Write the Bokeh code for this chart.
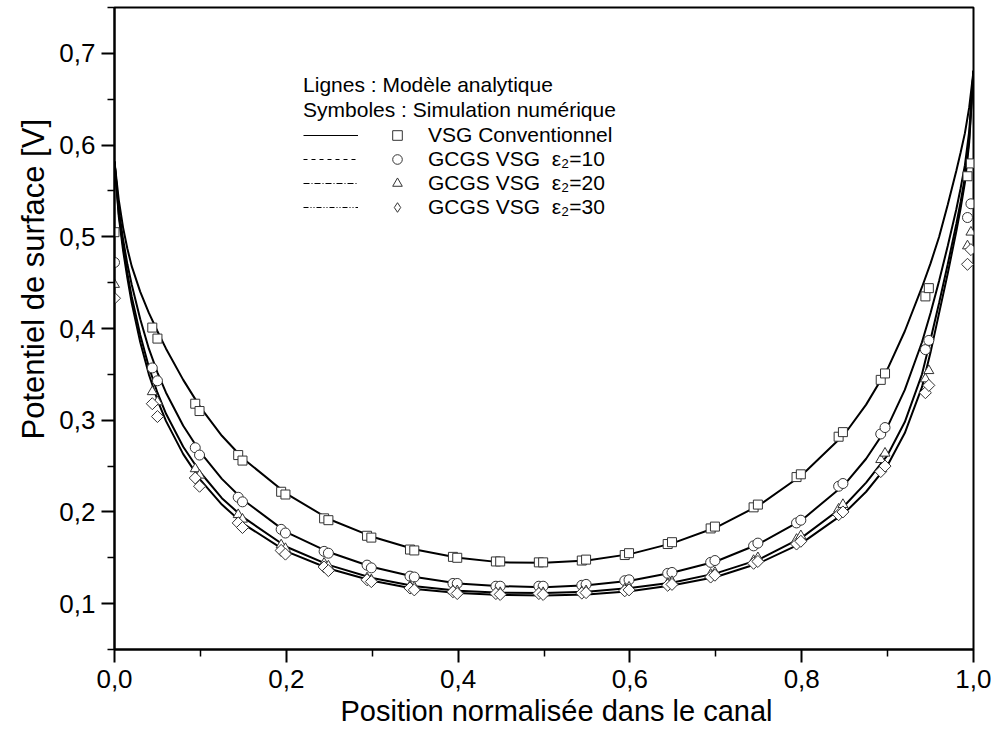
import math
from bokeh.plotting import figure
from bokeh.models import Range1d, FixedTicker, Legend, LegendItem, Label, Title
from bokeh.core.properties import value
from bokeh.embed import file_html
from bokeh.resources import INLINE

# ---------------- data ----------------
# analytic model (lines)
x_line = [0.0, 0.005, 0.01, 0.015, 0.02, 0.03, 0.04, 0.05, 0.06, 0.08, 0.10, 0.125, 0.15,
          0.20, 0.25, 0.30, 0.35, 0.40, 0.45, 0.50, 0.55, 0.60, 0.65, 0.70, 0.75, 0.80,
          0.85, 0.875, 0.90, 0.92, 0.94, 0.95, 0.96, 0.97, 0.98, 0.985, 0.99, 0.995, 1.0]
conv_line = [0.582, 0.540, 0.510, 0.487, 0.468, 0.440, 0.417, 0.397, 0.378, 0.344, 0.314, 0.283, 0.258,
             0.220, 0.192, 0.173, 0.159, 0.150, 0.145, 0.1445, 0.147, 0.154, 0.166, 0.183, 0.207, 0.240,
             0.285, 0.317, 0.356, 0.397, 0.445, 0.471, 0.500, 0.535, 0.572, 0.592, 0.613, 0.641, 0.681]
eps10_line = [0.582, 0.530, 0.497, 0.470, 0.448, 0.410, 0.378, 0.352, 0.330, 0.294, 0.265, 0.236, 0.213,
              0.178, 0.156, 0.140, 0.129, 0.122, 0.119, 0.118, 0.120, 0.125, 0.134, 0.146, 0.165, 0.191,
              0.230, 0.258, 0.293, 0.333, 0.385, 0.417, 0.452, 0.490, 0.530, 0.553, 0.578, 0.615, 0.681]
eps20_line = [0.582, 0.525, 0.490, 0.460, 0.435, 0.393, 0.358, 0.330, 0.307, 0.271, 0.243, 0.215, 0.194,
              0.162, 0.142, 0.128, 0.119, 0.114, 0.112, 0.1115, 0.113, 0.117, 0.123, 0.133, 0.148, 0.172,
              0.207, 0.232, 0.262, 0.298, 0.350, 0.388, 0.428, 0.470, 0.514, 0.538, 0.565, 0.607, 0.681]
eps30_line = [0.582, 0.522, 0.485, 0.455, 0.428, 0.385, 0.350, 0.322, 0.299, 0.263, 0.235, 0.208, 0.187,
              0.157, 0.138, 0.125, 0.116, 0.1115, 0.1095, 0.109, 0.110, 0.1135, 0.120, 0.129, 0.144, 0.166,
              0.199, 0.222, 0.251, 0.286, 0.336, 0.374, 0.417, 0.460, 0.506, 0.531, 0.559, 0.603, 0.681]

# numerical simulation (symbols), two interleaved point sets
x_sim_a = [0.000, 0.044, 0.094, 0.144, 0.194, 0.244, 0.294, 0.344, 0.394, 0.444, 0.494,
           0.544, 0.594, 0.644, 0.694, 0.744, 0.794, 0.843, 0.892, 0.944, 0.993]
x_sim_b = [0.050, 0.099, 0.149, 0.199, 0.249, 0.299, 0.349, 0.399, 0.449, 0.499,
           0.549, 0.599, 0.649, 0.699, 0.749, 0.799, 0.848, 0.897, 0.948, 0.997]
conv_sim_a = [0.505, 0.401, 0.318, 0.262, 0.222, 0.193, 0.174, 0.159, 0.151, 0.146, 0.145,
              0.147, 0.153, 0.165, 0.182, 0.205, 0.238, 0.282, 0.344, 0.435, 0.566]
conv_sim_b = [0.389, 0.310, 0.256, 0.219, 0.191, 0.172, 0.158, 0.150, 0.146, 0.145,
              0.148, 0.155, 0.167, 0.184, 0.208, 0.241, 0.287, 0.351, 0.444, 0.580]
eps10_sim_a = [0.472, 0.357, 0.270, 0.216, 0.181, 0.157, 0.142, 0.130, 0.122, 0.119, 0.119,
               0.120, 0.125, 0.133, 0.145, 0.163, 0.188, 0.228, 0.285, 0.377, 0.521]
eps10_sim_b = [0.343, 0.262, 0.211, 0.177, 0.155, 0.139, 0.129, 0.122, 0.119, 0.119,
               0.121, 0.126, 0.134, 0.147, 0.166, 0.191, 0.231, 0.292, 0.387, 0.536]
eps20_sim_a = [0.448, 0.331, 0.247, 0.197, 0.164, 0.144, 0.128, 0.119, 0.114, 0.112, 0.112,
               0.113, 0.116, 0.122, 0.132, 0.147, 0.170, 0.203, 0.257, 0.345, 0.490]
eps20_sim_b = [0.320, 0.240, 0.192, 0.160, 0.141, 0.126, 0.118, 0.114, 0.112, 0.112,
               0.114, 0.118, 0.124, 0.134, 0.150, 0.174, 0.208, 0.264, 0.354, 0.505]
eps30_sim_a = [0.433, 0.318, 0.237, 0.188, 0.158, 0.140, 0.126, 0.117, 0.113, 0.111, 0.111,
               0.1115, 0.114, 0.120, 0.129, 0.144, 0.165, 0.197, 0.244, 0.330, 0.470]
eps30_sim_b = [0.304, 0.228, 0.183, 0.154, 0.136, 0.124, 0.115, 0.111, 0.110, 0.110,
               0.112, 0.115, 0.121, 0.131, 0.146, 0.168, 0.200, 0.250, 0.338, 0.486]

series_labels = ["VSG Conventionnel", "GCGS VSG  ε₂=10", "GCGS VSG  ε₂=20", "GCGS VSG  ε₂=30"]
header_lines = ["Lignes : Modèle analytique", "Symboles : Simulation numérique"]
x_title = "Position normalisée dans le canal"
y_title = "Potentiel de surface [V]"

x_ticks = [0.0, 0.2, 0.4, 0.6, 0.8, 1.0]
x_tick_labels = ["0,0", "0,2", "0,4", "0,6", "0,8", "1,0"]
x_minor = [0.1, 0.3, 0.5, 0.7, 0.9]
y_ticks = [0.1, 0.2, 0.3, 0.4, 0.5, 0.6, 0.7]
y_tick_labels = ["0,1", "0,2", "0,3", "0,4", "0,5", "0,6", "0,7"]
y_minor = [0.05, 0.15, 0.25, 0.35, 0.45, 0.55, 0.65, 0.75]

FONT = "Liberation Sans"
NAN = float("nan")

# ---------------- figure ----------------
p = figure(width=991, height=744, title=None,
           x_range=Range1d(0, 1), y_range=Range1d(0.05, 0.75),
           output_backend="svg", toolbar_location=None,
           min_border_left=114, min_border_right=18, min_border_top=7, min_border_bottom=95)
p.xgrid.visible = False
p.ygrid.visible = False
p.outline_line_color = "black"
p.outline_line_width = 2
p.background_fill_color = "white"
p.border_fill_color = "white"

p.xaxis.ticker = FixedTicker(ticks=x_ticks, minor_ticks=x_minor)
p.yaxis.ticker = FixedTicker(ticks=y_ticks, minor_ticks=y_minor)
p.xaxis.major_label_overrides = {t: l for t, l in zip(x_ticks, x_tick_labels)}
p.yaxis.major_label_overrides = {t: l for t, l in zip(y_ticks, y_tick_labels)}

for ax in (p.xaxis[0], p.yaxis[0]):
    ax.axis_line_width = 2
    ax.axis_line_color = "black"
    ax.major_tick_line_width = 2
    ax.minor_tick_line_width = 1.5
    ax.major_tick_out = 13
    ax.major_tick_in = 0
    ax.minor_tick_out = 7
    ax.minor_tick_in = 0
    ax.major_label_text_font = FONT
    ax.major_label_text_font_size = "26px"
    ax.major_label_text_color = "black"
p.xaxis.major_label_standoff = 7
p.yaxis.major_label_standoff = 6

# axis titles as side titles (allow the slight off-centre placement of the original)
p.add_layout(Title(text=x_title, align="left", offset=226, text_font=FONT, text_font_size="29px",
                   text_font_style="normal", text_color="black", standoff=4), "below")
p.add_layout(Title(text=y_title, align="left", offset=210, text_font=FONT, text_font_size="31px",
                   text_font_style="normal", text_color="black", standoff=11), "left")

# analytic lines
for ys in (conv_line, eps10_line, eps20_line, eps30_line):
    p.line(x_line, ys, line_color="black", line_width=2)

# simulation symbols
MK = dict(fill_color="white", line_color="#333333", line_width=1)
sym_specs = [
    ("square", 9, 0.0, "square", conv_sim_a, conv_sim_b),
    ("circle", 10, 0.0, "circle", eps10_sim_a, eps10_sim_b),
    ("triangle", 10, 0.0, "triangle", eps20_sim_a, eps20_sim_b),
    ("square", 8.5, math.pi / 4, "diamond", eps30_sim_a, eps30_sim_b),
]
legend_sym = []
for marker, size, ang, leg_marker, ya, yb in sym_specs:
    p.scatter(x_sim_a, ya, marker=marker, size=size, angle=ang, **MK)
    p.scatter(x_sim_b, yb, marker=marker, size=size, angle=ang, **MK)
    # legend-only renderer (no visible data)
    legend_sym.append(p.scatter(x=[NAN], y=[NAN], marker=leg_marker, size=size, **MK))

# legend: line-style samples (legend-only renderers)
dashes = ["solid", "4 4", "6 2 1 2", "5 2 1 2 1 2"]
legend_lines = [p.line(x=[NAN, NAN], y=[NAN, NAN], line_color="black", line_width=1, line_dash=d)
                for d in dashes]

common = dict(orientation="vertical", glyph_height=24, label_height=24, spacing=0, padding=0,
              margin=0, border_line_alpha=0, background_fill_alpha=0,
              label_text_font=FONT, label_text_font_size="21px", label_text_color="black")
legA = Legend(items=[LegendItem(label=value(" "), renderers=[r]) for r in legend_lines],
              location=(189, 430), glyph_width=55, label_standoff=0, **common)
legB = Legend(items=[LegendItem(label=value(t), renderers=[r]) for t, r in zip(series_labels, legend_sym)],
              location=(270, 430), glyph_width=26, label_standoff=18, **common)
p.add_layout(legA)
p.add_layout(legB)

for i, t in enumerate(header_lines):
    p.add_layout(Label(x=0.2195, y=0.6656 - i * 0.0263, text=t, text_font=FONT,
                       text_font_size="21px", text_baseline="middle", text_color="black"))

open("out.html", "w").write(file_html(p, INLINE))
